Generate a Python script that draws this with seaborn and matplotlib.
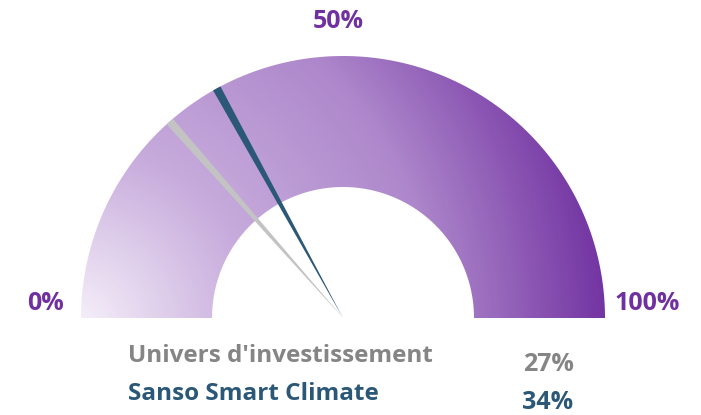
import matplotlib
matplotlib.use("Agg")
import matplotlib.pyplot as plt
import numpy as np
import seaborn as sns
from matplotlib.colors import LinearSegmentedColormap
from matplotlib.patches import Polygon

# Données
series = ["Univers d'investissement", "Sanso Smart Climate"]
valeurs = [27, 34]
couleurs_aiguilles = ["#c3c3c3", "#2c5878"]
couleurs_texte = ["#858585", "#2c5878"]
graduations = [0, 50, 100]
etiquettes_graduations = ["0%", "50%", "100%"]

sns.set_theme(style="white")
plt.rcParams["font.family"] = ["Open Sans", "DejaVu Sans"]

fig = plt.figure(figsize=(7.01, 4.15), dpi=100)
ax = fig.add_axes([0, 0, 1, 1])
ax.set_xlim(0, 701)
ax.set_ylim(415, 0)
ax.axis("off")

cx, cy = 343, 318
r_ext, r_int = 262, 131


def point(valeur, r):
    theta = np.pi * (1 - valeur / 100)
    return cx + r * np.cos(theta), cy - r * np.sin(theta)


# Arc de la jauge avec dégradé
t = np.linspace(0, 100, 200)
contour = [point(v, r_ext) for v in t] + [point(v, r_int) for v in t[::-1]]
arc = Polygon(contour, closed=True, facecolor="none", edgecolor="none")
ax.add_patch(arc)

cmap = LinearSegmentedColormap.from_list(
    "jauge", ["#f6f1fa", "#c7abdc", "#ad87cb", "#7030a0"])
xx, yy = np.meshgrid(np.linspace(0, 701, 701), np.linspace(0, 415, 415))
dist = np.hypot(xx - 75, (yy - 325) * 1.0) / 540
img = ax.imshow(dist, cmap=cmap, vmin=0, vmax=1, extent=(0, 701, 415, 0),
                origin="upper", interpolation="bilinear", zorder=1)
img.set_clip_path(arc)

# Aiguilles
for val, coul in zip(valeurs, couleurs_aiguilles):
    theta = np.pi * (1 - val / 100)
    nx, ny = -np.sin(theta), -np.cos(theta)
    demi = 4.2
    tx, ty = point(val, r_ext)
    poly = [(cx, cy), (tx + nx * demi, ty + ny * demi), (tx - nx * demi, ty - ny * demi)]
    ax.add_patch(Polygon(poly, closed=True, facecolor=coul, edgecolor="none", zorder=3))

# Graduations
pos_grad = {0: (45, 303), 50: (338, 21), 100: (647, 303)}
for g, lab in zip(graduations, etiquettes_graduations):
    x, y = pos_grad[g]
    ax.text(x, y, lab, color="#7030a0", fontsize=18, fontweight="bold",
            ha="center", va="center", zorder=4)

# Légende
for i, (nom, val) in enumerate(zip(series, valeurs)):
    y = 356 + i * 38
    ax.text(128, y, nom, color=couleurs_texte[i], fontsize=17.5, fontweight="bold",
            ha="left", va="center")
    ax.text(548, y + 8, f"{val}%", color=couleurs_texte[i], fontsize=18,
            fontweight="bold", ha="center", va="center")

fig.savefig("out.png", dpi=100)
plt.close(fig)
